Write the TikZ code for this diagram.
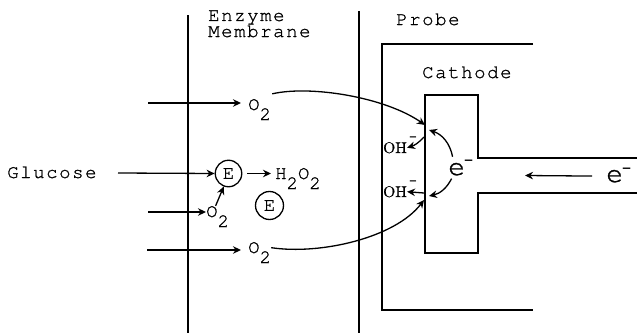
\documentclass[tikz,border=0pt]{standalone}
\usepackage{fontspec}
\newfontfamily\tw[LetterSpace=8.4,FakeBold=1]{texgyrecursor-regular.otf}
\newfontfamily\twplain[FakeBold=1]{texgyrecursor-regular.otf}
\newfontfamily\rmb[FakeBold=0.8]{lmroman10-regular.otf}
\newfontfamily\dvb{DejaVu Sans Bold}
\usetikzlibrary{arrows.meta,calc}
\newcommand\lowr[1]{\raisebox{-10pt}[0pt][0pt]{#1}}
\newcommand\negch[3]{\rlap{\kern#1\raisebox{#2}[0pt][0pt]{\dvb\fontsize{#3}{#3}\selectfont −}}}
\begin{document}
\begin{tikzpicture}[x=1pt,y=1pt,
  ln/.style={line width=1.4pt},
  arr/.style={line width=1.3pt,-{Stealth[length=8pt,width=7.5pt]}},
  lbl/.style={inner sep=0pt,font=\tw\fontsize{19}{20}\selectfont},
  enz/.style={draw,circle,line width=1.3pt,minimum size=26.5pt,inner sep=0pt,font=\twplain\fontsize{19}{19}\selectfont},
  ion/.style={inner sep=0pt,font=\rmb\fontsize{15.5}{16}\selectfont},
  el/.style={inner sep=0pt,font=\twplain\fontsize{28}{28}\selectfont}]
\useasboundingbox (0,0) rectangle (637,333);
% structure lines
\draw[ln] (188,318) -- (188,0);
\draw[ln] (359,322) -- (359,0);
\draw[ln] (533,289) -- (382,289) -- (382,23) -- (533,23);
\draw[ln] (637,175) -- (478,175) -- (478,238) -- (425,238) -- (425,80) -- (478,80) -- (478,140) -- (637,140);
% labels
\node[lbl,anchor=base west,align=left,font=\tw\fontsize{19}{13}\selectfont] (enz) at (208,296) {Enzyme\\Membrane};
\node[lbl,anchor=base west] (probe) at (396,308) {Probe};
\node[lbl,anchor=base west] (cath) at (422,255) {Cathode};
\node[lbl,anchor=base west] (glu) at (7,155) {Glucose};
\node[lbl,anchor=base west] (o2a) at (248,223) {O\lowr{2}};
\node[lbl,anchor=base west] (o2b) at (206,116) {O\lowr{2}};
\node[lbl,anchor=base west] (o2c) at (248,80) {O\lowr{2}};
\node[lbl,anchor=base west] (h2o2) at (275,154) {H\lowr{2}O\lowr{2}};
\node[enz] (e1) at (228.5,159.5) {E};
\node[enz,minimum size=28pt] (e2) at (269.5,127.5) {E};
\node[ion,anchor=base west] (oh1) at (383,180) {OH\negch{2pt}{13pt}{10}};
\node[ion,anchor=base west] (oh2) at (383,136) {OH\negch{2pt}{13pt}{10}};
\node[el,anchor=base west] (ec) at (448,158) {e\negch{-1.5pt}{11pt}{12}};
\node[el,anchor=base west] (er) at (606,151) {e\negch{-1.5pt}{10pt}{12}};
% coordinates
\coordinate (g0) at (118,160);
\coordinate (s1) at (148,230);
\coordinate (s2) at (148,121);
\coordinate (s3) at (147,83);
\coordinate (c1) at (425,208);
\coordinate (c2) at (424,133);
\coordinate (c3) at (429,203);
\coordinate (c4) at (429,137);
\coordinate (c5) at (424,196);
\coordinate (c6) at (424,140);
\coordinate (c8) at (525,157.5);
% connectors
\draw[arr] (g0) -- (e1.west);
\draw[arr,shorten >=7pt] (s1) -- (s1 -| o2a.west);
\draw[arr,shorten >=0pt] (s2) -- (s2 -| o2b.west);
\draw[arr,shorten >=7pt] (s3) -- (s3 -| o2c.west);
\draw[arr,shorten <=5pt,shorten >=4pt] (e1.east) -- (e1.east -| h2o2.west);
\draw[arr] ([xshift=-2pt]o2b.north) -- (e1.250);
\draw[arr] ([shift={(1pt,5pt)}]o2a.north east) .. controls (310,248) and (385,236) .. (c1);
\draw[arr] (o2c.east) .. controls (320,78) and (395,95) .. (c2);
\draw[arr] ([shift={(-4pt,6pt)}]ec.north) to[bend right=30] (c3);
\draw[arr] ([shift={(-5pt,-3pt)}]ec.south) to[bend left=25] (c4);
\draw[arr] (c5) to[bend left=15] (oh1.east);
\draw[arr] (c6) -- (oh2.east);
\draw[arr,shorten <=14pt] (er.west) -- (c8);
\end{tikzpicture}
\end{document}
